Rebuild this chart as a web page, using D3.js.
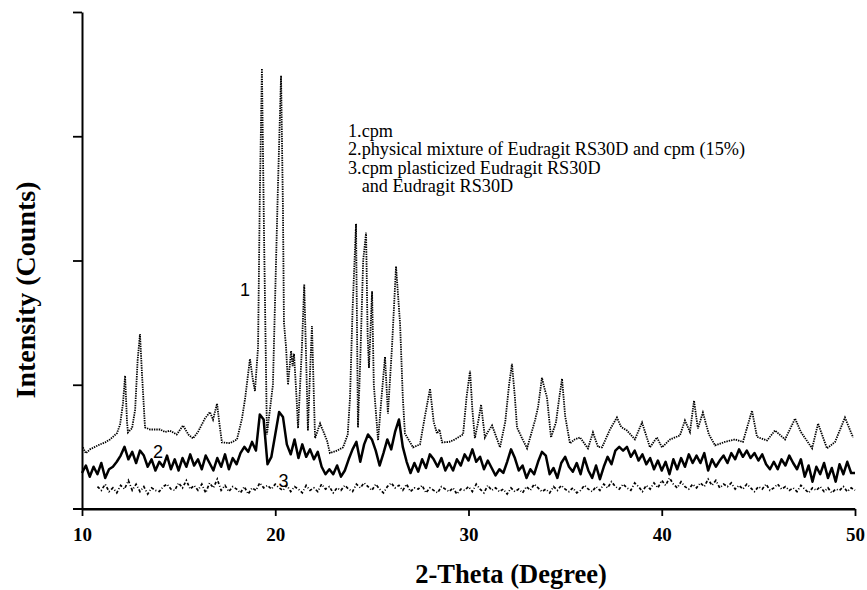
<!DOCTYPE html>
<html>
<head>
<meta charset="utf-8">
<script src="https://cdn.jsdelivr.net/npm/d3@7"></script>
<style>
  body { margin: 0; background: #fff; }
  svg { display: block; }
</style>
</head>
<body>
<div id="chart"></div>
<script>
// Curve 1: cpm, [2-theta, counts]
const cpm = [
    [10.05, 496], [10.2, 448], [10.41, 480], [10.93, 520], [11.2, 536], [11.45, 560], [11.81, 610],
    [11.97, 680], [12.12, 850], [12.23, 1072], [12.33, 700], [12.38, 616], [12.59, 650], [12.75, 800],
    [12.88, 1200], [13.0, 1408], [13.1, 1100], [13.26, 656], [13.52, 640], [14.04, 640], [14.3, 620],
    [14.55, 630], [14.9, 600], [15.23, 672], [15.5, 600], [15.74, 568], [16.0, 620], [16.36, 728],
    [16.62, 780], [16.78, 720], [16.99, 848], [17.1, 700], [17.24, 536], [17.66, 530], [18.02, 560],
    [18.28, 728], [18.45, 900], [18.69, 1208], [18.85, 1032], [18.95, 950], [19.11, 1300], [19.2, 2500],
    [19.31, 3544], [19.42, 2200], [19.57, 600], [19.88, 1000], [20.14, 2600], [20.3, 3488], [20.4, 2400],
    [20.45, 1500], [20.56, 1300], [20.66, 1000], [20.82, 1272], [20.9, 1150], [20.97, 1250], [21.1, 900],
    [21.18, 650], [21.38, 1300], [21.5, 1808], [21.6, 1200], [21.69, 630], [21.8, 1100], [21.9, 1472],
    [22.0, 900], [22.06, 570], [22.32, 688], [22.68, 550], [22.83, 450], [23.2, 470], [23.51, 496],
    [23.75, 600], [23.87, 900], [24.0, 1600], [24.18, 2296], [24.28, 656], [24.4, 1200], [24.55, 2000],
    [24.7, 2224], [24.78, 1400], [24.85, 1136], [25.01, 1752], [25.1, 1000], [25.32, 552], [25.5, 900],
    [25.68, 1224], [25.83, 768], [26.04, 1300], [26.25, 1952], [26.46, 1488], [26.6, 900], [26.71, 608],
    [27.13, 496], [27.49, 520], [27.75, 750], [28.01, 968], [28.2, 700], [28.37, 608], [28.5, 640],
    [28.63, 536], [29.0, 540], [29.3, 560], [29.72, 600], [29.9, 900], [30.08, 1112], [30.2, 800],
    [30.33, 570], [30.5, 700], [30.65, 840], [30.85, 576], [31.0, 620], [31.22, 672], [31.63, 496],
    [31.9, 700], [32.1, 1000], [32.25, 1168], [32.4, 900], [32.51, 656], [32.8, 560], [33.03, 488],
    [33.44, 712], [33.6, 820], [33.8, 1056], [33.95, 960], [34.06, 900], [34.27, 576], [34.53, 700],
    [34.7, 900], [34.84, 1048], [35.0, 750], [35.25, 528], [35.5, 560], [35.77, 576], [36.18, 488],
    [36.44, 616], [36.7, 500], [36.91, 496], [37.32, 640], [37.68, 736], [37.9, 660], [38.2, 632],
    [38.61, 560], [38.98, 696], [39.39, 496], [39.75, 576], [40.01, 496], [40.43, 560], [40.94, 592],
    [41.2, 712], [41.46, 620], [41.67, 872], [41.87, 648], [42.13, 776], [42.44, 600], [42.76, 512],
    [43.27, 540], [43.79, 560], [44.2, 540], [44.67, 792], [44.93, 580], [45.45, 552], [45.86, 632],
    [46.38, 560], [46.9, 728], [47.2, 620], [47.78, 488], [48.09, 688], [48.55, 488], [48.97, 540],
    [49.48, 736], [49.9, 576]
];

// Curves 2 and 3 were scanned in 0.2 degree steps
const scanStep = 0.2;

// Curve 2: physical mixture, 10.0 .. 50.0
const mixtureStart = 10.0;
const mixture = [
    290, 350, 260, 340, 280, 370, 250, 320, 340, 380,
    430, 500, 400, 460, 370, 470, 430, 340, 400, 310,
    380, 340, 430, 320, 400, 310, 410, 340, 440, 350,
    400, 320, 430, 370, 310, 410, 340, 440, 320, 410,
    360, 450, 500, 460, 540, 470, 760, 720, 360, 420,
    600, 780, 740, 520, 440, 560, 410, 520, 420, 480,
    400, 460, 340, 280, 320, 280, 350, 260, 310, 400,
    480, 540, 380, 520, 600, 560, 470, 350, 450, 560,
    480, 620, 720, 500, 380, 290, 370, 300, 400, 330,
    440, 400, 340, 410, 310, 370, 310, 400, 350, 440,
    390, 480, 380, 420, 320, 390, 330, 270, 320, 290,
    380, 480, 410, 310, 350, 250, 320, 280, 380, 460,
    430, 280, 330, 250, 370, 420, 340, 300, 370, 280,
    410, 310, 250, 350, 240, 340, 420, 360, 470, 500,
    470, 500, 420, 470, 390, 440, 360, 410, 320, 390,
    310, 380, 280, 400, 320, 410, 340, 440, 370, 430,
    370, 450, 310, 400, 340, 390, 430, 370, 450, 400,
    480, 420, 470, 410, 450, 390, 440, 360, 320, 380,
    320, 400, 350, 430, 370, 320, 400, 260, 350, 220,
    340, 280, 370, 250, 330, 220, 360, 280, 380, 290,
    290
];

// Curve 3: cpm plasticized film, 10.8 .. 50.0
const filmStart = 10.8;
const film = [
    180, 150, 200, 140, 170, 130,
    190, 160, 230, 150, 200, 140, 180, 120, 170, 150,
    140, 180, 200, 160, 150, 210, 170, 230, 160, 190,
    150, 200, 130, 210, 170, 240, 150, 190, 140, 180,
    160, 130, 180, 120, 170, 150, 210, 170, 190, 160,
    200, 170, 150, 190, 140, 180, 160, 130, 190, 150,
    170, 140, 200, 160, 180, 130, 170, 150, 190, 160,
    140, 200, 170, 210, 180, 150, 200, 160, 130, 180,
    210, 170, 190, 150, 200, 140, 170, 160, 190, 130,
    170, 150, 130, 180, 160, 140, 170, 120, 160, 150,
    180, 140, 200, 160, 130, 190, 150, 170, 140, 160,
    120, 170, 140, 160, 130, 180, 150, 200, 170, 140,
    160, 130, 180, 150, 190, 160, 140, 170, 130, 150,
    190, 160, 140, 180, 150, 200, 170, 220, 180, 160,
    200, 170, 150, 210, 180, 140, 190, 160, 210, 170,
    230, 190, 250, 200, 170, 220, 180, 160, 200, 170,
    210, 180, 240, 190, 230, 170, 200, 180, 210, 160,
    190, 160, 200, 170, 140, 180, 160, 200, 150, 170,
    200, 160, 180, 150, 170, 140, 190, 160, 130, 170,
    150, 180, 140, 170, 130, 160, 150, 180, 140, 170,
    150
];

const xTicks = [10, 20, 30, 40, 50];
const yTicks = [1000, 2000, 3000, 4000];

const legendLines = [
    '1.cpm',
    '2.physical mixture of Eudragit RS30D and cpm (15%)',
    '3.cpm plasticized Eudragit RS30D',
    '   and Eudragit RS30D'
];

// curve number labels placed next to the traces, in data units
const curveLabels = [
    { text: '1', theta: 18.43, counts: 1712 },
    { text: '2', theta: 13.93, counts: 408 },
    { text: '3', theta: 20.43, counts: 176 }
];

function toPoints(values, start) {
    return values.map((v, i) => [start + i * scanStep, v]);
}

function init() {
    const width = 867, height = 590;
    const serif = '"Liberation Serif", "Times New Roman", serif';

    const svg = d3.select('#chart')
        .append('svg')
        .attr('width', width)
        .attr('height', height);

    const x = d3.scaleLinear().domain([10, 50]).range([82, 855]);
    const y = d3.scaleLinear().domain([0, 4000]).range([509, 12]);

    const line = d3.line()
        .x(d => x(d[0]))
        .y(d => y(d[1]));

    // traces
    svg.append('path')
        .datum(cpm)
        .attr('d', line)
        .attr('fill', 'none')
        .attr('stroke', '#000')
        .attr('stroke-width', 1.8)
        .attr('stroke-dasharray', '1.4,1');

    svg.append('path')
        .datum(toPoints(mixture, mixtureStart))
        .attr('d', line)
        .attr('fill', 'none')
        .attr('stroke', '#000')
        .attr('stroke-width', 2.5)
        .attr('stroke-linejoin', 'round');

    svg.append('path')
        .datum(toPoints(film, filmStart))
        .attr('d', line)
        .attr('fill', 'none')
        .attr('stroke', '#000')
        .attr('stroke-width', 1.7)
        .attr('stroke-dasharray', '3,2,1,2');

    // axes
    const xAxis = svg.append('g')
        .attr('transform', `translate(0, ${y(0)})`)
        .call(d3.axisBottom(x)
            .tickValues(xTicks)
            .tickFormat(d3.format('d'))
            .tickSize(7)
            .tickSizeOuter(0)
            .tickPadding(12));

    xAxis.selectAll('text')
        .style('font-family', serif)
        .style('font-weight', 'bold')
        .style('font-size', '19px')
        .attr('fill', '#000');

    // baseline runs a little past the y axis on the left
    svg.append('line')
        .attr('x1', x.range()[0] - 9)
        .attr('x2', x.range()[1])
        .attr('y1', y(0))
        .attr('y2', y(0))
        .attr('stroke', '#000')
        .attr('stroke-width', 2);

    svg.append('g')
        .attr('transform', `translate(${x(10)}, 0)`)
        .call(d3.axisLeft(y)
            .tickValues(yTicks)
            .tickFormat('')
            .tickSize(9)
            .tickSizeOuter(0));

    svg.selectAll('.domain').attr('stroke-width', 2);
    svg.selectAll('.tick line').attr('stroke-width', 1.8);

    // axis titles
    svg.append('text')
        .attr('transform', 'translate(35, 290) rotate(-90)')
        .attr('text-anchor', 'middle')
        .style('font-family', serif)
        .style('font-weight', 'bold')
        .style('font-size', '28px')
        .text('Intensity (Counts)');

    svg.append('text')
        .attr('x', 511)
        .attr('y', 583)
        .attr('text-anchor', 'middle')
        .style('font-family', serif)
        .style('font-weight', 'bold')
        .style('font-size', '26.5px')
        .text('2-Theta (Degree)');

    // legend
    svg.append('text')
        .attr('x', 348)
        .attr('y', 137)
        .style('font-family', serif)
        .style('font-size', '18.2px')
        .attr('xml:space', 'preserve')
        .selectAll('tspan')
        .data(legendLines)
        .join('tspan')
        .attr('x', 348)
        .attr('dy', (d, i) => i === 0 ? 0 : 18.3)
        .style('white-space', 'pre')
        .text(d => d);

    // curve labels
    svg.selectAll('.curve-label')
        .data(curveLabels)
        .join('text')
        .attr('class', 'curve-label')
        .attr('x', d => x(d.theta))
        .attr('y', d => y(d.counts))
        .attr('text-anchor', 'middle')
        .style('font-family', '"Liberation Sans", Arial, sans-serif')
        .style('font-size', '18px')
        .text(d => d.text);
}

window.onload = init;
</script>
</body>
</html>
